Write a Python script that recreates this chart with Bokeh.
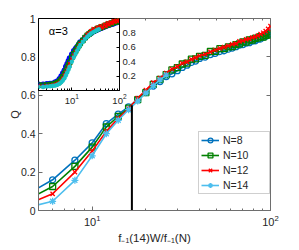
from bokeh.plotting import figure
from bokeh.models import FixedTicker, LogAxis, LinearAxis, Label, CustomJSTickFormatter
from bokeh.layouts import column
from bokeh.embed import file_html
from bokeh.resources import INLINE

# ---------------- data ----------------
series_labels = ["N=8", "N=10", "N=12", "N=14"]

# main panel: Q vs f_-1(14)W/f_-1(N)
w_main = [4, 6, 8, 10, 12, 14, 16, 18, 20, 22, 24, 26, 28, 30, 32, 34, 36, 38, 40,
          43, 46, 49, 52, 55, 58, 61, 64, 67, 70, 73, 76, 79, 82, 85, 88, 91, 94, 97, 100]
q_n8 = [0.067, 0.160, 0.262, 0.352, 0.452, 0.502, 0.540, 0.578, 0.615, 0.648, 0.672, 0.698,
        0.712, 0.728, 0.745, 0.757, 0.771, 0.778, 0.792, 0.799, 0.812, 0.818, 0.828, 0.832,
        0.840, 0.846, 0.853, 0.862, 0.864, 0.872, 0.874, 0.882, 0.884, 0.892, 0.893, 0.902,
        0.908, 0.915, 0.925]
q_n10 = [0.040, 0.125, 0.230, 0.330, 0.435, 0.490, 0.533, 0.577, 0.614, 0.657, 0.683, 0.708,
         0.732, 0.744, 0.763, 0.768, 0.788, 0.790, 0.803, 0.808, 0.828, 0.829, 0.843, 0.843,
         0.852, 0.853, 0.864, 0.868, 0.878, 0.877, 0.889, 0.888, 0.897, 0.899, 0.906, 0.903,
         0.912, 0.913, 0.920]
q_n12 = [0.018, 0.087, 0.200, 0.310, 0.412, 0.480, 0.530, 0.586, 0.627, 0.666, 0.690, 0.716,
         0.737, 0.749, 0.767, 0.774, 0.787, 0.796, 0.806, 0.814, 0.826, 0.836, 0.844, 0.851,
         0.858, 0.866, 0.869, 0.881, 0.884, 0.891, 0.894, 0.901, 0.904, 0.911, 0.919, 0.926,
         0.934, 0.946, 0.960]
w_n14 = [4, 6, 8, 10, 12, 14, 16, 18, 20, 22, 24, 26]
q_n14 = [0.008, 0.048, 0.157, 0.285, 0.400, 0.470, 0.525, 0.570, 0.612, 0.650, 0.680, 0.705]

# vertical marker line
vline_x = [16.7]
vline_bottom = [0.0]
vline_top = [0.548]

# inset (alpha = 3)
w_ins = [2, 2.5, 3, 3.5, 4, 4.5, 5, 5.5, 6, 6.5, 7, 7.5, 8, 8.5, 9, 10, 11, 12, 13, 14, 15,
         17, 19, 21, 23, 25, 28, 31, 34, 37, 40, 44, 48, 52, 56, 60, 65, 70, 75, 80, 86, 92, 100]
qi_n8 = [0.085, 0.085, 0.09, 0.095, 0.10, 0.115, 0.13, 0.16, 0.20, 0.24, 0.28, 0.33, 0.37, 0.41,
         0.45, 0.50, 0.55, 0.58, 0.61, 0.64, 0.67, 0.70, 0.735, 0.76, 0.78, 0.795, 0.815, 0.83,
         0.845, 0.855, 0.865, 0.875, 0.885, 0.895, 0.905, 0.91, 0.92, 0.925, 0.93, 0.94, 0.945,
         0.95, 0.96]
qi_n10 = [0.075, 0.07, 0.075, 0.08, 0.085, 0.095, 0.105, 0.125, 0.155, 0.19, 0.23, 0.27, 0.31,
          0.35, 0.39, 0.46, 0.51, 0.55, 0.59, 0.625, 0.655, 0.695, 0.735, 0.765, 0.785, 0.805,
          0.825, 0.84, 0.855, 0.865, 0.875, 0.885, 0.895, 0.905, 0.915, 0.92, 0.93, 0.935, 0.945,
          0.95, 0.955, 0.96, 0.97]
qi_n12 = [0.065, 0.06, 0.065, 0.07, 0.075, 0.085, 0.095, 0.11, 0.14, 0.17, 0.21, 0.25, 0.29,
          0.33, 0.37, 0.44, 0.49, 0.535, 0.575, 0.615, 0.65, 0.69, 0.74, 0.78, 0.80, 0.83, 0.86,
          0.84, 0.88, 0.86, 0.90, 0.87, 0.92, 0.89, 0.94, 0.91, 0.95, 0.93, 0.97, 0.95, 0.98,
          0.96, 0.99]
w_ins_n14 = [2, 2.5, 3, 3.5, 4, 4.5, 5, 5.5, 6, 6.5, 7, 7.5, 8, 8.5, 9, 10, 11, 12, 13, 14, 15,
             17, 19, 21, 23, 25, 28, 31, 34, 37]
qi_n14 = [0.05, 0.05, 0.055, 0.06, 0.065, 0.07, 0.08, 0.095, 0.115, 0.14, 0.17, 0.21, 0.25,
          0.29, 0.33, 0.40, 0.46, 0.51, 0.555, 0.595, 0.63, 0.675, 0.715, 0.745, 0.77, 0.79,
          0.81, 0.825, 0.84, 0.85]

# ticks
main_xticks = [10, 100]
main_xminor = [5, 6, 7, 8, 9, 20, 30, 40, 50, 60, 70, 80, 90]
main_yticks = [0, 0.2, 0.4, 0.6, 0.8, 1]
ins_xticks = [10, 100]
ins_xminor = [2, 3, 4, 5, 6, 7, 8, 9, 20, 30, 40, 50, 60, 70, 80, 90]
ins_yticks = [0.2, 0.4, 0.6, 0.8]
inset_text = "α=3"

# ---------------- styling ----------------
FONT = "Liberation Sans"
AX = "#6e6e6e"
TXT = "#262626"
main_colors = ["#0072BD", "#008000", "#FF0000", "#4DBEEE"]
ins_colors = ["#0000FF", "#008000", "#FF0000", "#19C3C8"]
markers = ["circle", "square", "x", "asterisk"]

plain_num = CustomJSTickFormatter(code="return String(Math.round(tick * 10) / 10);")
blank = CustomJSTickFormatter(code="return '';")

MAIN_H = 18 + 192 + 38

p = figure(x_axis_type="log", x_range=(5, 100), y_range=(0, 1),
           frame_width=232, frame_height=192,
           min_border_left=38, min_border_right=25, min_border_top=18, min_border_bottom=38,
           output_backend="svg", toolbar_location=None)
p.grid.visible = False
p.outline_line_color = AX
p.background_fill_color = "white"

def style_axis(ax, show_labels=True, fs="11px"):
    ax.axis_line_color = AX
    ax.major_tick_line_color = AX
    ax.minor_tick_line_color = AX
    ax.major_tick_in = 4
    ax.major_tick_out = 0
    ax.minor_tick_in = 2
    ax.minor_tick_out = 0
    ax.major_label_text_font = FONT
    ax.major_label_text_color = TXT
    if show_labels:
        ax.major_label_text_font_size = fs
    else:
        ax.major_label_text_font_size = "1px"
        ax.major_label_standoff = 0
        ax.formatter = blank

xa = p.xaxis[0]
xa.ticker = FixedTicker(ticks=main_xticks, minor_ticks=main_xminor)
style_axis(xa)
xa.major_label_standoff = 4
xa.axis_label = "f₋₁(14)W/f₋₁(N)"
xa.axis_label_text_font = FONT
xa.axis_label_text_font_style = "normal"
xa.axis_label_text_font_size = "11.5px"
xa.axis_label_text_color = TXT
xa.axis_label_standoff = 3

ya = p.yaxis[0]
ya.ticker = FixedTicker(ticks=main_yticks)
style_axis(ya, fs="10.5px")
ya.formatter = plain_num
ya.major_label_standoff = 3
ya.axis_label = "Q"
ya.axis_label_text_font = FONT
ya.axis_label_text_font_style = "normal"
ya.axis_label_text_font_size = "11px"
ya.axis_label_text_color = TXT
ya.axis_label_standoff = -3

top_ax = LogAxis(ticker=FixedTicker(ticks=main_xticks, minor_ticks=main_xminor))
style_axis(top_ax, show_labels=False)
top_ax.axis_line_color = None
p.add_layout(top_ax, "above")
right_ax = LinearAxis(ticker=FixedTicker(ticks=main_yticks))
style_axis(right_ax, show_labels=False)
right_ax.axis_line_color = None
p.add_layout(right_ax, "right")

main_x = [w_main, w_main, w_main, w_n14]
main_y = [q_n8, q_n10, q_n12, q_n14]
for xs, ys, c, m, lab in zip(main_x, main_y, main_colors, markers, series_labels):
    p.line(xs, ys, line_color=c, line_width=1.6, legend_label=lab)
    sz = 6 if m != "asterisk" else 7
    p.scatter(xs, ys, marker=m, size=sz, line_color=c, fill_color=None, line_width=1.3,
              legend_label=lab)

p.segment(x0=vline_x, y0=vline_bottom, x1=vline_x, y1=vline_top, line_color="black",
          line_width=2)

lg = p.legend[0]
lg.location = (160, 16)
lg.label_text_font = FONT
lg.label_text_font_size = "10.5px"
lg.label_text_color = TXT
lg.glyph_width = 18
lg.glyph_height = 12
lg.label_height = 12
lg.label_width = 44
lg.label_standoff = 4
lg.spacing = 3
lg.padding = 2
lg.margin = 0
lg.border_line_color = "#a0a0a0"
lg.border_line_width = 1
lg.background_fill_color = "white"
lg.background_fill_alpha = 1

# ---------------- inset ----------------
ins = figure(x_axis_type="log", x_range=(2, 100), y_range=(0, 1),
             frame_width=81, frame_height=72,
             min_border_left=38, min_border_right=25, min_border_top=18, min_border_bottom=22,
             y_axis_location="right", output_backend="svg", toolbar_location=None)
ins.margin = (-MAIN_H, 0, 0, 0)
ins.grid.visible = False
ins.background_fill_color = "white"
ins.border_fill_color = None
ins.outline_line_color = "black"
ins.outline_line_width = 1

ixa = ins.xaxis[0]
ixa.ticker = FixedTicker(ticks=ins_xticks, minor_ticks=ins_xminor)
style_axis(ixa, fs="9.5px")
ixa.axis_line_color = "black"
ixa.major_tick_line_color = "black"
ixa.minor_tick_line_color = "black"
ixa.major_tick_in = 3
ixa.minor_tick_in = 2
ixa.major_label_standoff = 3

iya = ins.yaxis[0]
iya.ticker = FixedTicker(ticks=ins_yticks)
style_axis(iya, fs="9.5px")
iya.formatter = plain_num
iya.axis_line_color = "black"
iya.major_tick_line_color = "black"
iya.major_tick_in = 3
iya.major_label_standoff = 3

ins_x = [w_ins, w_ins, w_ins, w_ins_n14]
ins_y = [qi_n8, qi_n10, qi_n12, qi_n14]
for xs, ys, c, m in zip(ins_x, ins_y, ins_colors, markers):
    ins.line(xs, ys, line_color=c, line_width=1.2)
    ins.scatter(xs, ys, marker=m, size=4.5, line_color=c,
                fill_color=(c if m == "circle" else None), line_width=1.3)

ins.add_layout(Label(x=3.3, y=0.83, text=inset_text, text_font=FONT, text_font_size="11px",
                     text_color="black", text_baseline="middle", text_align="left"))

layout = column(p, ins)
open("out.html", "w").write(file_html(layout, INLINE))
